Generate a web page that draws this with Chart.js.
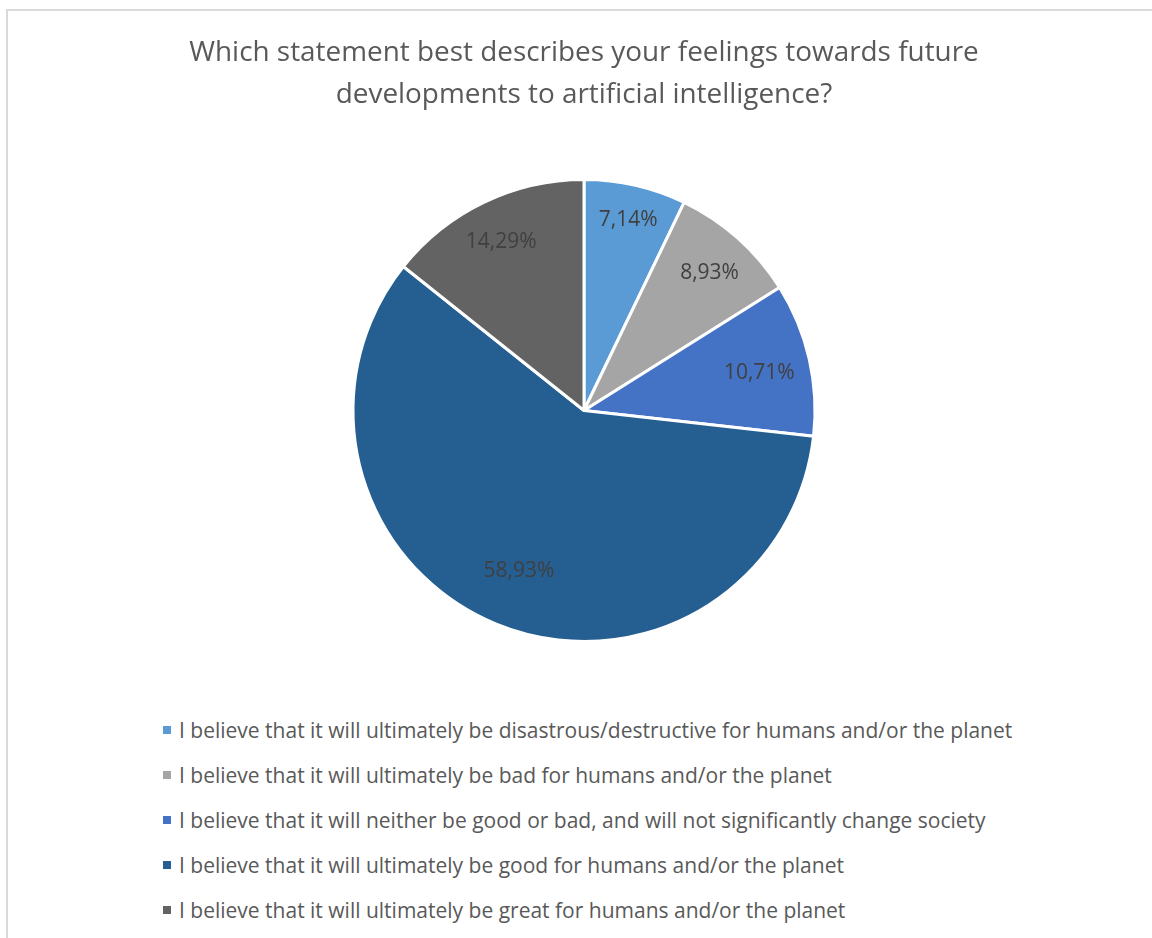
<!DOCTYPE html>
<html>
<head>
<meta charset="utf-8">
<title>AI feelings survey</title>
<script src="https://cdn.jsdelivr.net/npm/chart.js@4"></script>
<style>
    html, body { margin: 0; padding: 0; background: #ffffff; }
    body { width: 1152px; height: 938px; overflow: hidden; position: relative; }
    #frame {
        position: absolute; left: 6px; top: 9px; width: 1160px; height: 940px;
        border-left: 2px solid #d9d9d9; border-top: 2px solid #d9d9d9;
        box-sizing: border-box;
    }
    #chartBox { position: absolute; left: 0; top: 0; width: 1152px; height: 660px; }
    #legend {
        position: absolute; left: 155px; top: 697px; margin: 0; padding: 0;
        list-style: none; font-family: "Open Sans", Lato, sans-serif; font-size: 21px; color: #595959;
    }
    #legend li { height: 45px; line-height: 45px; white-space: nowrap; }
    #legend span.box { display: inline-block; width: 8px; height: 8px; margin-right: 8px; vertical-align: middle; position: relative; top: -2px; }
</style>
</head>
<body>
<div id="frame">
    <div id="chartBox"><canvas id="pieChart"></canvas></div>
    <ul id="legend"></ul>
</div>
<script>
document.addEventListener("DOMContentLoaded", function () {
    const titleLines = [
        'Which statement best describes your feelings towards future',
        'developments to artificial intelligence?'
    ];
    const answers = [
        'I believe that it will ultimately be disastrous/destructive for humans and/or the planet',
        'I believe that it will ultimately be bad for humans and/or the planet',
        'I believe that it will neither be good or bad, and will not significantly change society',
        'I believe that it will ultimately be good for humans and/or the planet',
        'I believe that it will ultimately be great for humans and/or the planet'
    ];
    const percentages = [7.14, 8.93, 10.71, 58.93, 14.29];
    const sliceColors = ['#5b9bd5', '#a5a5a5', '#4472c4', '#255e91', '#636363'];

    const fontFamily = '"Open Sans", Lato, sans-serif';

    // percentage labels placed just inside the outer edge of each slice
    const sliceLabels = {
        id: 'sliceLabels',
        afterDatasetsDraw(chart) {
            const ctx = chart.ctx;
            const meta = chart.getDatasetMeta(0);
            ctx.save();
            ctx.font = '21px ' + fontFamily;
            ctx.fillStyle = '#404040';
            ctx.textAlign = 'center';
            ctx.textBaseline = 'middle';
            meta.data.forEach(function (arc, i) {
                const p = arc.getProps(['x', 'y', 'startAngle', 'endAngle', 'outerRadius'], true);
                const mid = (p.startAngle + p.endAngle) / 2;
                const text = percentages[i].toFixed(2).replace('.', ',') + '%';
                const w = ctx.measureText(text).width;
                const h = 24;
                const reach = Math.abs(Math.cos(mid)) * w / 2 + Math.abs(Math.sin(mid)) * h / 2;
                const margin = percentages[i] > 50 ? 36 : 14;
                const dist = p.outerRadius - margin - reach;
                ctx.fillText(text, p.x + Math.cos(mid) * dist, p.y + Math.sin(mid) * dist + 3);
            });
            ctx.restore();
        }
    };

    const ctx = document.getElementById('pieChart').getContext('2d');
    const pieChart = new Chart(ctx, {
        type: 'pie',
        data: {
            labels: answers,
            datasets: [{
                data: percentages,
                backgroundColor: sliceColors,
                borderColor: '#ffffff',
                borderWidth: 3
            }]
        },
        options: {
            responsive: true,
            maintainAspectRatio: false,
            animation: false,
            layout: { padding: { top: 0, bottom: 28 } },
            plugins: {
                legend: { display: false },
                tooltip: { enabled: false },
                title: {
                    display: true,
                    text: titleLines,
                    color: '#595959',
                    font: { family: fontFamily, size: 27.9, weight: 'normal', lineHeight: 1.505 },
                    padding: { top: 21, bottom: 62 }
                }
            }
        },
        plugins: [sliceLabels]
    });

    // legend list below the pie, built from the same labels and colours
    const legendEl = document.getElementById('legend');
    answers.forEach(function (label, i) {
        const li = document.createElement('li');
        const box = document.createElement('span');
        box.className = 'box';
        box.style.background = sliceColors[i];
        li.appendChild(box);
        li.appendChild(document.createTextNode(label));
        legendEl.appendChild(li);
    });
});
</script>
</body>
</html>
